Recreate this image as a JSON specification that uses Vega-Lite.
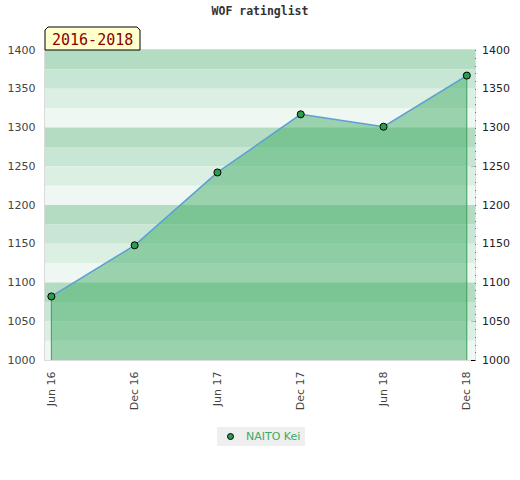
{
  "$schema": "https://vega.github.io/schema/vega-lite/v6.json",
  "width": 430,
  "height": 310,
  "autosize": "none",
  "padding": {"left": 45, "top": 50, "right": 45, "bottom": 120},
  "title": {
    "text": "WOF ratinglist",
    "font": "DejaVu Sans Mono",
    "fontSize": 11.5,
    "fontWeight": "bold",
    "color": "#333333",
    "frame": "group",
    "offset": 8
  },
  "datasets": {
    "ratings": [
      {"date": "2016-06-01", "rating": 1082, "player": "NAITO Kei"},
      {"date": "2016-12-01", "rating": 1148, "player": "NAITO Kei"},
      {"date": "2017-06-01", "rating": 1242, "player": "NAITO Kei"},
      {"date": "2017-12-01", "rating": 1317, "player": "NAITO Kei"},
      {"date": "2018-06-01", "rating": 1301, "player": "NAITO Kei"},
      {"date": "2018-12-01", "rating": 1367, "player": "NAITO Kei"}
    ],
    "bands": [
      {"lo": 1375, "hi": 1400, "shade": "a"},
      {"lo": 1350, "hi": 1375, "shade": "b"},
      {"lo": 1325, "hi": 1350, "shade": "c"},
      {"lo": 1300, "hi": 1325, "shade": "d"},
      {"lo": 1275, "hi": 1300, "shade": "a"},
      {"lo": 1250, "hi": 1275, "shade": "b"},
      {"lo": 1225, "hi": 1250, "shade": "c"},
      {"lo": 1200, "hi": 1225, "shade": "d"},
      {"lo": 1175, "hi": 1200, "shade": "a"},
      {"lo": 1150, "hi": 1175, "shade": "b"},
      {"lo": 1125, "hi": 1150, "shade": "c"},
      {"lo": 1100, "hi": 1125, "shade": "d"},
      {"lo": 1075, "hi": 1100, "shade": "a"},
      {"lo": 1050, "hi": 1075, "shade": "b"},
      {"lo": 1025, "hi": 1050, "shade": "c"},
      {"lo": 1000, "hi": 1025, "shade": "d"}
    ],
    "period": [{"label": "2016-2018"}]
  },
  "layer": [
    {
      "data": {"name": "bands"},
      "mark": {"type": "rect"},
      "encoding": {
        "y": {
          "field": "lo",
          "type": "quantitative",
          "scale": {"domain": [1000, 1400], "nice": false, "zero": false},
          "axis": {"orient": "left", "title": null, "tickCount": 8, "format": "d", "labelPadding": 10}
        },
        "y2": {"field": "hi"},
        "color": {
          "field": "shade",
          "type": "nominal",
          "scale": {"domain": ["a", "b", "c", "d"], "range": ["#b3dcc3", "#c7e6d3", "#dbefe2", "#eef7f1"]},
          "legend": null
        }
      }
    },
    {
      "data": {"name": "ratings"},
      "mark": {"type": "area", "color": "#43ae67", "opacity": 0.5},
      "encoding": {
        "x": {
          "field": "date",
          "type": "temporal",
          "scale": {"type": "utc", "domain": [1463529600000, 1545177600000], "nice": false},
          "axis": {"values": [1464739200000, 1480550400000, 1496275200000, 1512086400000, 1527811200000, 1543622400000], "format": "%b %y", "labelAngle": 270, "labelPadding": 11, "labelFlush": false, "title": null}
        },
        "y": {"field": "rating", "type": "quantitative", "scale": {"domain": [1000, 1400], "nice": false, "zero": false}, "axis": null},
        "y2": {"datum": 1000}
      }
    },
    {
      "data": {"name": "ratings"},
      "transform": [
        {"joinaggregate": [{"op": "min", "field": "date", "as": "d0"}, {"op": "max", "field": "date", "as": "d1"}]},
        {"filter": "time(datum.date) === time(datum.d0) || time(datum.date) === time(datum.d1)"}
      ],
      "mark": {"type": "rule", "color": "#3a9e5c", "strokeWidth": 1},
      "encoding": {
        "x": {
          "field": "date",
          "type": "temporal",
          "scale": {"type": "utc", "domain": [1463529600000, 1545177600000], "nice": false},
          "axis": {"values": [1464739200000, 1480550400000, 1496275200000, 1512086400000, 1527811200000, 1543622400000], "format": "%b %y", "labelAngle": 270, "labelPadding": 11, "labelFlush": false, "title": null}
        },
        "y": {"field": "rating", "type": "quantitative", "scale": {"domain": [1000, 1400], "nice": false, "zero": false}, "axis": null},
        "y2": {"datum": 1000}
      }
    },
    {
      "data": {"name": "ratings"},
      "mark": {"type": "line", "color": "#5a9fd6", "strokeWidth": 1.5},
      "encoding": {
        "x": {
          "field": "date",
          "type": "temporal",
          "scale": {"type": "utc", "domain": [1463529600000, 1545177600000], "nice": false},
          "axis": {"values": [1464739200000, 1480550400000, 1496275200000, 1512086400000, 1527811200000, 1543622400000], "format": "%b %y", "labelAngle": 270, "labelPadding": 11, "labelFlush": false, "title": null}
        },
        "y": {"field": "rating", "type": "quantitative", "scale": {"domain": [1000, 1400], "nice": false, "zero": false}, "axis": null}
      }
    },
    {
      "data": {"name": "ratings"},
      "mark": {"type": "point", "filled": true, "size": 50, "stroke": "#000000", "strokeWidth": 1, "opacity": 1},
      "encoding": {
        "x": {
          "field": "date",
          "type": "temporal",
          "scale": {"type": "utc", "domain": [1463529600000, 1545177600000], "nice": false},
          "axis": {"values": [1464739200000, 1480550400000, 1496275200000, 1512086400000, 1527811200000, 1543622400000], "format": "%b %y", "labelAngle": 270, "labelPadding": 11, "labelFlush": false, "title": null}
        },
        "y": {
          "field": "rating",
          "type": "quantitative",
          "scale": {"domain": [1000, 1400], "nice": false, "zero": false},
          "axis": {
            "orient": "right",
            "title": null,
            "tickCount": 40,
            "format": "d",
            "ticks": true,
            "tickColor": "#000000",
            "tickWidth": 1,
            "tickSize": {"condition": {"test": "datum.value % 50 === 0", "value": -4.5}, "value": -3},
            "labelExpr": "datum.value % 50 === 0 ? datum.label : ''",
            "labelOverlap": false,
            "labelBound": false,
            "labelPadding": 11,
            "labelColor": "#222222"
          }
        },
        "color": {
          "field": "player",
          "type": "nominal",
          "scale": {"domain": ["NAITO Kei"], "range": ["#2e9b52"]},
          "legend": {
            "title": null,
            "orient": "none",
            "legendX": 172,
            "legendY": 377,
            "direction": "horizontal",
            "fillColor": "#efefef",
            "padding": 4,
            "symbolOffset": 4,
            "labelOffset": 10,
            "symbolType": "circle",
            "symbolSize": 36,
            "symbolStrokeColor": "#000000",
            "symbolStrokeWidth": 1,
            "labelColor": "#3cab63",
            "labelFont": "DejaVu Sans",
            "labelFontSize": 11
          }
        }
      }
    },
    {
      "data": {"name": "period"},
      "mark": {
        "type": "point",
        "shape": "M0,0V-20L3,-23H92L95,-20V0Z",
        "size": 4,
        "filled": true,
        "fill": "#ffffcc",
        "stroke": "#000000",
        "strokeWidth": 1,
        "opacity": 1
      },
      "encoding": {
        "x": {
          "datum": 1463529600000,
          "type": "temporal",
          "scale": {"type": "utc", "domain": [1463529600000, 1545177600000], "nice": false},
          "axis": {"values": [1464739200000, 1480550400000, 1496275200000, 1512086400000, 1527811200000, 1543622400000], "format": "%b %y", "labelAngle": 270, "labelPadding": 11, "labelFlush": false, "title": null}
        },
        "y": {"datum": 1400, "type": "quantitative", "scale": {"domain": [1000, 1400], "nice": false, "zero": false}, "axis": null}
      }
    },
    {
      "data": {"name": "period"},
      "mark": {
        "type": "text",
        "font": "DejaVu Sans Mono",
        "fontSize": 15,
        "color": "#8b0000",
        "align": "left",
        "baseline": "alphabetic",
        "dx": 7,
        "dy": -5
      },
      "encoding": {
        "x": {
          "datum": 1463529600000,
          "type": "temporal",
          "scale": {"type": "utc", "domain": [1463529600000, 1545177600000], "nice": false},
          "axis": {"values": [1464739200000, 1480550400000, 1496275200000, 1512086400000, 1527811200000, 1543622400000], "format": "%b %y", "labelAngle": 270, "labelPadding": 11, "labelFlush": false, "title": null}
        },
        "y": {"datum": 1400, "type": "quantitative", "scale": {"domain": [1000, 1400], "nice": false, "zero": false}, "axis": null},
        "text": {"field": "label"}
      }
    }
  ],
  "resolve": {"scale": {"color": "independent"}, "axis": {"y": "independent"}},
  "config": {
    "view": {"stroke": "#d0d0d0", "strokeWidth": 1.5},
    "axis": {
      "labelFont": "DejaVu Sans",
      "labelFontSize": 11,
      "labelColor": "#444444",
      "grid": false,
      "domain": false,
      "ticks": false
    }
  }
}
